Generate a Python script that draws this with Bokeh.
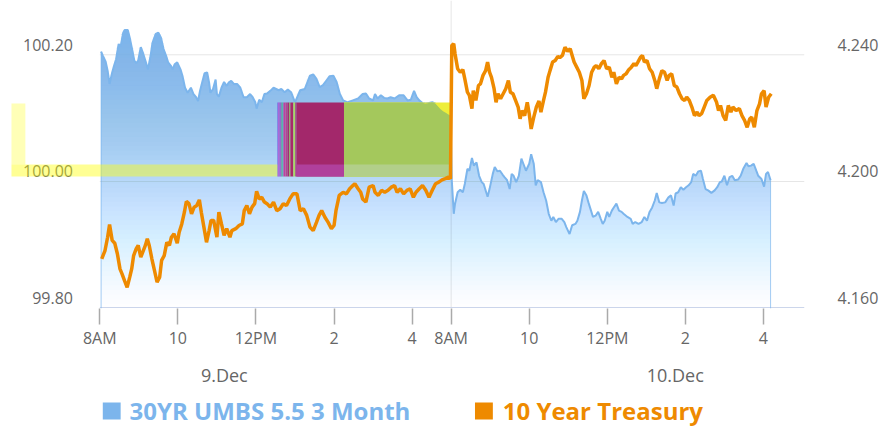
import numpy as np
from bokeh.plotting import figure
from bokeh.layouts import column
from bokeh.models import (Range1d, LinearAxis, FixedTicker, Span, BoxAnnotation)
from bokeh.core.properties import value
from bokeh.embed import file_html
from bokeh.resources import INLINE

# ---------------- data (minutes after 8AM of each day) ----------------
UMBS_DAY1_MIN = [2,5,9,12,15,19,22,25,29,32,36,38,43,46,49,53,56,59,63,66,70,74,78,81,86,90,94,98,102,105,
                 109,112,115,119,124,127,131,135,140,144,148,151,154,158,161,165,168,170,174,178,180,183,187,191,195,198,202,206,211,216,
                 221,226,231,235,239,241,245,249,253,257,262,267,275,279,284,289,294,300,308,315,323,328,333,338,343,348,353,359,364,369,
                 374,381,389,397,404,409,414,420,423,427,432,437,442,447,453,460,467,473,478,483,487,491,496,501,506,511,516,521,526,534,539]
UMBS_DAY1 = [100.205,100.198,100.189,100.175,100.154,100.172,100.183,100.193,100.217,100.213,
             100.235,100.239,100.239,100.227,100.212,100.191,100.187,100.191,100.212,100.204,
             100.191,100.177,100.198,100.219,100.233,100.235,100.227,100.209,100.198,100.188,
             100.183,100.177,100.185,100.188,100.177,100.167,100.148,100.140,100.148,100.138,
             100.133,100.127,100.143,100.159,100.171,100.172,100.156,100.140,100.146,100.161,
             100.138,100.134,100.148,100.157,100.151,100.156,100.159,100.154,100.154,100.148,
             100.133,100.133,100.138,100.133,100.125,100.115,100.129,100.125,100.138,100.139,
             100.143,100.148,100.144,100.146,100.141,100.145,100.141,100.125,100.144,100.146,
             100.167,100.169,100.162,100.149,100.152,100.159,100.166,100.167,100.157,100.138,
             100.128,100.125,100.128,100.131,100.138,100.139,100.131,100.128,100.138,100.131,
             100.136,100.132,100.131,100.133,100.131,100.136,100.136,100.128,100.129,100.143,
             100.133,100.128,100.124,100.123,100.124,100.125,100.123,100.117,100.112,100.107,100.104]

UMBS_DAY2_MIN = [1,4,6,10,14,18,21,25,28,32,35,39,43,47,50,56,59,64,67,71,75,79,82,86,90,93,96,100,104,108,
                 111,115,120,123,127,130,133,138,142,146,150,154,157,161,165,170,174,177,182,186,191,194,198,201,204,208,211,215,218,222,
                 226,230,233,236,240,243,247,250,254,258,262,265,271,276,279,283,288,293,297,301,305,309,313,316,320,324,329,334,338,342,
                 345,349,353,357,361,365,369,372,376,380,384,387,391,395,400,405,409,413,416,420,424,428,432,436,441,445,449,454,457,461,
                 465,469,472,477,481,484,487,491]
UMBS_DAY2 = [100.002,99.949,99.965,99.983,99.987,99.983,99.996,100.020,100.017,100.037,
             100.025,100.030,100.009,99.999,99.996,99.976,99.988,100.012,100.023,100.016,
             100.017,100.011,100.007,100.002,99.988,100.012,100.009,99.999,100.009,100.036,
             100.028,100.017,100.028,100.043,100.028,99.994,100.002,99.999,99.983,99.970,
             99.949,99.938,99.944,99.936,99.941,99.941,99.936,99.928,99.917,99.931,
             99.933,99.938,99.952,99.970,99.985,99.978,99.967,99.954,99.944,99.946,
             99.952,99.941,99.933,99.938,99.952,99.944,99.954,99.959,99.965,99.954,
             99.952,99.949,99.944,99.941,99.933,99.936,99.933,99.936,99.944,99.938,
             99.952,99.959,99.970,99.982,99.967,99.966,99.967,99.975,99.978,99.962,
             99.981,99.983,99.991,99.987,99.991,99.994,99.999,100.012,100.009,100.016,
             100.017,100.004,99.988,99.986,99.982,99.986,99.991,99.999,100.000,100.009,
             99.994,100.007,100.009,100.002,100.003,100.009,100.020,100.029,100.024,100.025,
             100.028,100.017,100.009,100.004,99.992,100.012,100.015,100.002]

TSY_DAY1_MIN = [3,8,12,15,19,23,27,31,34,38,42,46,49,52,56,59,63,66,70,73,76,80,84,88,92,95,99,103,107,110,
                114,119,122,126,130,133,137,141,145,149,153,156,160,164,168,171,175,180,183,187,191,195,200,203,209,214,219,222,226,230,
                234,238,241,245,249,253,257,262,267,272,277,282,287,292,297,303,308,313,318,323,328,333,337,341,346,351,356,360,363,368,
                374,379,384,389,392,397,401,404,409,414,420,423,428,433,438,443,448,453,457,462,467,472,477,482,486,491,496,501,506,511,
                516,521,526,531,536,539]
TSY_DAY1 = [4.1756,4.1782,4.1824,4.1864,4.1814,4.1805,4.1772,4.1724,4.1709,4.1687,
            4.1666,4.1698,4.1724,4.1766,4.1788,4.1798,4.1761,4.1777,4.1798,4.1819,
            4.1798,4.1756,4.1719,4.1682,4.1698,4.1751,4.1766,4.1808,4.1798,4.1824,
            4.1835,4.1805,4.1840,4.1866,4.1903,4.1937,4.1930,4.1898,4.1919,4.1924,
            4.1942,4.1903,4.1856,4.1808,4.1845,4.1877,4.1877,4.1824,4.1903,4.1866,
            4.1830,4.1851,4.1824,4.1845,4.1851,4.1861,4.1866,4.1908,4.1924,4.1898,
            4.1919,4.1930,4.1969,4.1945,4.1950,4.1935,4.1930,4.1919,4.1935,4.1908,
            4.1914,4.1930,4.1924,4.1945,4.1961,4.1961,4.1908,4.1914,4.1893,4.1856,
            4.1845,4.1871,4.1893,4.1908,4.1887,4.1871,4.1851,4.1861,4.1908,4.1956,
            4.1966,4.1961,4.1977,4.1987,4.1993,4.1977,4.1966,4.1945,4.1935,4.1982,
            4.1987,4.1966,4.1956,4.1972,4.1966,4.1972,4.1982,4.1987,4.1966,4.1977,
            4.1961,4.1972,4.1977,4.1950,4.1966,4.1977,4.1987,4.1972,4.1950,4.1972,
            4.1993,4.1998,4.2005,4.2009,4.2014,4.2009]

TSY_DAY2_MIN = [1,4,6,10,14,18,21,25,28,32,34,38,42,45,49,53,56,59,62,66,69,72,76,80,84,88,91,95,99,103,
                106,109,113,117,120,123,127,131,135,138,142,145,149,152,156,160,164,167,171,175,179,183,186,189,193,197,201,204,208,212,
                216,220,223,227,231,235,239,243,247,250,254,258,262,265,269,273,277,281,284,287,291,294,297,301,305,309,313,316,320,324,
                328,332,335,339,343,347,351,355,359,362,366,370,374,378,381,385,389,393,398,403,408,411,414,418,422,426,430,433,438,443,
                447,451,455,459,462,466,470,474,477,481,484,488,492]
TSY_DAY2 = [4.2429,4.2435,4.2403,4.2356,4.2345,4.2353,4.2324,4.2282,4.2272,4.2230,
            4.2287,4.2256,4.2303,4.2308,4.2335,4.2350,4.2377,4.2345,4.2329,4.2293,
            4.2250,4.2277,4.2261,4.2277,4.2293,4.2319,4.2282,4.2277,4.2256,4.2235,
            4.2198,4.2224,4.2208,4.2250,4.2214,4.2166,4.2203,4.2235,4.2254,4.2219,
            4.2256,4.2282,4.2329,4.2350,4.2377,4.2382,4.2395,4.2391,4.2398,4.2424,
            4.2411,4.2419,4.2398,4.2377,4.2361,4.2345,4.2319,4.2261,4.2277,4.2303,
            4.2345,4.2361,4.2366,4.2356,4.2372,4.2382,4.2356,4.2361,4.2329,4.2345,
            4.2308,4.2329,4.2324,4.2335,4.2340,4.2353,4.2361,4.2372,4.2366,4.2377,
            4.2392,4.2398,4.2377,4.2382,4.2356,4.2345,4.2319,4.2293,4.2324,4.2350,
            4.2345,4.2319,4.2335,4.2340,4.2303,4.2298,4.2277,4.2261,4.2256,4.2266,
            4.2256,4.2235,4.2208,4.2219,4.2208,4.2214,4.2235,4.2256,4.2266,4.2272,
            4.2250,4.2224,4.2240,4.2208,4.2193,4.2240,4.2219,4.2235,4.2224,4.2230,
            4.2208,4.2193,4.2171,4.2198,4.2203,4.2171,4.2224,4.2245,4.2277,4.2287,
            4.2235,4.2266,4.2277]

# axis ticks / labels
SESSION_HOURS = 9            # 8AM .. 5PM shown for day 1
TIME_TICKS = [0, 2, 4, 6, 8, 9, 11, 13, 15, 17]
TIME_LABELS = ["8AM", "10", "12PM", "2", "4", "8AM", "10", "12PM", "2", "4"]
DAY_TICKS = [3.19, 14.74]
DAY_LABELS = ["9.Dec", "10.Dec"]
LEFT_TICKS = [99.80, 100.00, 100.20]
LEFT_LABELS = ["99.80", "100.00", "100.20"]
RIGHT_TICKS = [4.160, 4.200, 4.240]
RIGHT_LABELS = ["4.160", "4.200", "4.240"]
SERIES_NAMES = ["30YR UMBS 5.5 3 Month", "10 Year Treasury"]

# highlight overlay bands (hours on the x scale, values on the left scale)
OVL_TOP, OVL_BOT, BAND_TOP = 100.1247, 100.0079, 100.0268
STRIP_LEFT, STRIP_RIGHT, STRIP_TOP = -2.263, -1.907, 100.1231
BAND_RIGHT = 4.551
STRIPE_L = [4.551, 4.577, 4.602, 4.628, 4.653, 4.679, 4.704, 4.755, 4.806, 4.856, 4.882, 4.958, 5.009, 5.034]
STRIPE_R = [4.577, 4.602, 4.628, 4.653, 4.679, 4.704, 4.755, 4.806, 4.856, 4.882, 4.958, 5.009, 5.034, 6.255]
STRIPE_C = ["#6a5ae0", "#d040c8", "#8060d0", "#9050c0", "#50b080", "#40a8b0", "#c040a0",
            "#b04890", "#a03070", "#90c050", "#a82a6a", "#a8d860", "#a03070", "#a3286b"]
GREEN_L, GREEN_R = 6.255, 9.0

BLUE = "#7cb5ec"
ORANGE = "#ee8a00"
GREY = "#666666"
FONT = "Open Sans"

# scales: frame spans the whole left margin so that the highlight strip can be shown
X_MIN, X_MAX = -2.339, 18.052
Y_MIN, Y_MAX = 99.7995, 100.2857
R_MIN, R_MAX = 4.15990, 4.25714
GRID_END = 18.052
LEFT_LABEL_X = -0.6865
AXIS_LINE_Y = 99.8011
FRAME_PX = (8, 810)          # horizontal extent of the (aligned) plot frames, page pixels

# ---------------- derived ----------------
ux = np.concatenate([np.array(UMBS_DAY1_MIN) / 60.0, SESSION_HOURS + np.array(UMBS_DAY2_MIN) / 60.0])
uy = np.concatenate([UMBS_DAY1, UMBS_DAY2])
tx = np.concatenate([np.array(TSY_DAY1_MIN) / 60.0, SESSION_HOURS + np.array(TSY_DAY2_MIN) / 60.0])
ty = np.concatenate([TSY_DAY1, TSY_DAY2])

p = figure(width=881, height=392, x_range=Range1d(X_MIN, X_MAX), y_range=Range1d(Y_MIN, Y_MAX),
           output_backend="svg", toolbar_location=None,
           x_axis_location=None, y_axis_location=None,
           min_border_left=8, min_border_right=71, min_border_top=0, min_border_bottom=84,
           outline_line_color=None, background_fill_color="white", border_fill_color="white")
p.extra_y_ranges = {"right": Range1d(R_MIN, R_MAX)}
for g in p.grid:
    g.visible = False

# grid lines and axis line (only across the data area)
p.segment(x0=0, x1=GRID_END, y0=LEFT_TICKS[1:], y1=LEFT_TICKS[1:], line_color="#e6e6e6", line_width=1)
p.segment(x0=[0], x1=[GRID_END], y0=[AXIS_LINE_Y], y1=[AXIS_LINE_Y], line_color="#ccd6eb", line_width=1)
p.add_layout(Span(location=SESSION_HOURS, dimension="height", line_color="#e6e6e6", line_width=1, level="underlay"))

# gradient area for UMBS (stacked translucent layers -> linear fade)
top_val = float(uy.max())
N = 60
lows = np.linspace(Y_MIN, top_val, N + 1)[:-1]
step = lows[1] - lows[0]
prev = 0.0
for lo in lows:
    target = float(np.clip((lo + step / 2 - Y_MIN) / (top_val - Y_MIN), 0, 0.985))
    a = 1 - (1 - target) / (1 - prev)
    prev = target
    p.varea(x=ux, y1=lo, y2=np.maximum(uy, lo), fill_color=BLUE, fill_alpha=a)

p.line(ux, uy, line_color=BLUE, line_width=2)
p.segment(x0=[ux[0], ux[-1]], y0=[uy[0], uy[-1]], x1=[ux[0], ux[-1]], y1=[Y_MIN, Y_MIN],
          line_color=BLUE, line_width=1, line_alpha=0.7)

# overlay highlight artefacts
p.quad(left=[GREEN_L], right=[GREEN_R], bottom=[OVL_BOT], top=[OVL_TOP], color="#eeee3a", line_color=None)
gx = np.linspace(GREEN_L, GREEN_R, 120)
gtop = np.minimum(np.interp(gx, ux, uy), OVL_TOP)
p.varea(x=gx, y1=OVL_BOT, y2=gtop, fill_color="#a4c85c")
p.quad(left=[GREEN_L], right=[GREEN_R], bottom=[OVL_BOT], top=[BAND_TOP], color="#b2cf8a", line_color=None)
p.quad(left=STRIPE_L, right=STRIPE_R, bottom=OVL_BOT, top=OVL_TOP, color=STRIPE_C, line_color=None)
p.quad(left=[STRIPE_R[-2]], right=[STRIPE_R[-1]], bottom=[OVL_BOT], top=[BAND_TOP], color="#b0409c", line_color=None)

# left tick labels (drawn as text so that they sit slightly above their grid line)
p.text(x=LEFT_LABEL_X, y=LEFT_TICKS, text=LEFT_LABELS, text_align="right", text_baseline="middle",
       y_offset=-10, text_font=value(FONT), text_font_size="16px", text_color=GREY)

p.add_layout(BoxAnnotation(left=STRIP_LEFT, right=STRIP_RIGHT, bottom=BAND_TOP, top=STRIP_TOP,
                           fill_color="#ffff99", fill_alpha=0.7, line_color=None))
p.add_layout(BoxAnnotation(left=STRIP_LEFT, right=BAND_RIGHT, bottom=OVL_BOT, top=BAND_TOP,
                           fill_color="#ffff00", fill_alpha=0.42, line_color=None))

r_tsy = p.line(tx, ty, line_color=ORANGE, line_width=3.5, y_range_name="right")
r_tsy.level = "overlay"

# axes
xax = LinearAxis(ticker=FixedTicker(ticks=TIME_TICKS),
                 major_label_overrides=dict(zip(TIME_TICKS, TIME_LABELS)),
                 axis_line_color=None, major_tick_line_color="#aaaaaa", major_tick_line_width=1.5,
                 major_tick_out=16, major_tick_in=0, minor_tick_line_color=None,
                 major_label_standoff=2, major_label_text_font=FONT,
                 major_label_text_font_size="16px", major_label_text_color=GREY)
p.add_layout(xax, "below")
dax = LinearAxis(ticker=FixedTicker(ticks=DAY_TICKS),
                 major_label_overrides=dict(zip(DAY_TICKS, DAY_LABELS)),
                 axis_line_color=None, major_tick_line_color=None, minor_tick_line_color=None,
                 major_label_standoff=5, major_label_text_font=FONT,
                 major_label_text_font_size="18px", major_label_text_color=GREY)
p.add_layout(dax, "below")

rticks = [v + 0.00316 for v in RIGHT_TICKS]
rax = LinearAxis(y_range_name="right", ticker=FixedTicker(ticks=rticks),
                 major_label_overrides=dict(zip(rticks, RIGHT_LABELS)),
                 axis_line_color=None, major_tick_line_color=None, minor_tick_line_color=None,
                 major_label_standoff=27, major_label_text_font=FONT,
                 major_label_text_font_size="16px", major_label_text_color=GREY)
p.add_layout(rax, "right")

# legend row under the chart; its frame is aligned with the chart frame, x in page pixels
leg = figure(width=881, height=37, x_range=Range1d(*FRAME_PX), y_range=Range1d(37, 0),
             output_backend="svg", toolbar_location=None, x_axis_location=None, y_axis_location=None,
             min_border_left=8, min_border_right=71, min_border_top=0, min_border_bottom=0,
             outline_line_color=None, background_fill_color="white", border_fill_color="white")
for g in leg.grid:
    g.visible = False
LEG_SWATCH_L = [103, 478]
LEG_TEXT_X = [130, 506]
LEG_COLORS = [BLUE, ORANGE]
leg.quad(left=LEG_SWATCH_L, right=[s + 18 for s in LEG_SWATCH_L], top=10, bottom=27,
         color=LEG_COLORS, line_color=None)
leg.text(x=LEG_TEXT_X, y=18, text=SERIES_NAMES, text_color=LEG_COLORS, text_baseline="middle",
         text_font=value(FONT), text_font_style="bold", text_font_size="24px")

layout = column(p, leg, spacing=0)
open("out.html", "w").write(file_html(layout, INLINE))
